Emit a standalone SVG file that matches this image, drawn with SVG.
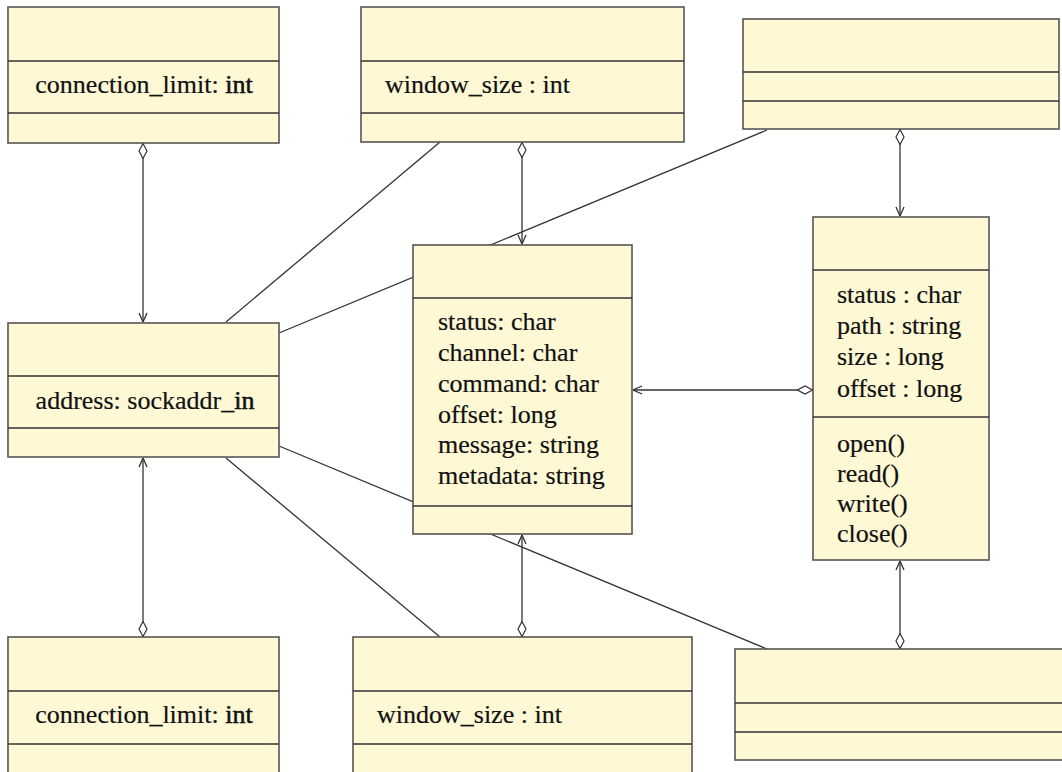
<svg xmlns="http://www.w3.org/2000/svg" width="1062" height="772" viewBox="0 0 1062 772">
  <style>
    .box { fill: #FEF8D5; stroke: #555; stroke-width: 1.6; }
    .div { stroke: #333; stroke-width: 1.5; }
    .txt { font-family: 'Liberation Serif', 'Times New Roman', serif; font-size: 26px; fill: #111; stroke: #111; stroke-width: 0.2; }
    .mid { text-anchor: middle; }
    .heavy { stroke-width: 0.55; }
    .conn { stroke: #333; stroke-width: 1.3; fill: none; }
  </style>
  <defs>
    <!-- open arrowhead -->
    <marker id="arrow" viewBox="0 0 10 10" refX="10" refY="5" markerWidth="10" markerHeight="10" markerUnits="userSpaceOnUse" orient="auto">
      <path d="M1,1 L10,5 L1,9" fill="none" stroke="#333" stroke-width="1.3"/>
    </marker>
    <!-- hollow aggregation diamond -->
    <marker id="diamond" viewBox="0 0 16 10" refX="0" refY="5" markerWidth="16" markerHeight="10" markerUnits="userSpaceOnUse" orient="auto">
      <path d="M0.5,5 L8,1 L15.5,5 L8,9 Z" fill="#fff" stroke="#333" stroke-width="1.2"/>
    </marker>
  </defs>

  <rect width="1062" height="772" fill="#fff"/>

  <g id="connectors">
    <!-- aggregations: diamond at the owner, arrow at the part -->
    <path class="conn" d="M143,143 L143,322" marker-start="url(#diamond)" marker-end="url(#arrow)"/>
    <path class="conn" d="M143,637 L143,458" marker-start="url(#diamond)" marker-end="url(#arrow)"/>
    <path class="conn" d="M522,142 L522,244" marker-start="url(#diamond)" marker-end="url(#arrow)"/>
    <path class="conn" d="M522,637 L522,535" marker-start="url(#diamond)" marker-end="url(#arrow)"/>
    <path class="conn" d="M900,129 L900,216" marker-start="url(#diamond)" marker-end="url(#arrow)"/>
    <path class="conn" d="M900,649 L900,561" marker-start="url(#diamond)" marker-end="url(#arrow)"/>
    <path class="conn" d="M813,390 L633,390" marker-start="url(#diamond)" marker-end="url(#arrow)"/>
    <!-- plain associations -->
    <path class="conn" d="M440,142 L226,322"/>
    <path class="conn" d="M767,130 L279,333"/>
    <path class="conn" d="M767,649 L279,446"/>
    <path class="conn" d="M226,458 L440,637"/>
  </g>

  <g id="node-top-left">
    <rect class="box" x="8" y="7" width="271" height="136"/>
    <line class="div" x1="8" y1="61" x2="279" y2="61"/>
    <line class="div" x1="8" y1="113" x2="279" y2="113"/>
    <text class="txt mid" x="144" y="93">connection_limit: <tspan class="heavy">int</tspan></text>
  </g>

  <g id="node-top-middle">
    <rect class="box" x="361" y="7" width="323" height="135"/>
    <line class="div" x1="361" y1="61" x2="684" y2="61"/>
    <line class="div" x1="361" y1="113" x2="684" y2="113"/>
    <text class="txt" x="385" y="93">window_size : int</text>
  </g>

  <g id="node-top-right">
    <rect class="box" x="743" y="19" width="316" height="110"/>
    <line class="div" x1="743" y1="72" x2="1059" y2="72"/>
    <line class="div" x1="743" y1="101" x2="1059" y2="101"/>
  </g>

  <g id="node-middle-left">
    <rect class="box" x="8" y="323" width="271" height="134"/>
    <line class="div" x1="8" y1="376" x2="279" y2="376"/>
    <line class="div" x1="8" y1="428" x2="279" y2="428"/>
    <text class="txt mid" x="145" y="409">address: sockaddr_<tspan class="heavy">in</tspan></text>
  </g>

  <g id="node-center">
    <rect class="box" x="413" y="245" width="219" height="289"/>
    <line class="div" x1="413" y1="298" x2="632" y2="298"/>
    <line class="div" x1="413" y1="506" x2="632" y2="506"/>
    <text class="txt" x="438" y="330">status: char</text>
    <text class="txt" x="438" y="361">channel: char</text>
    <text class="txt" x="438" y="392">command: char</text>
    <text class="txt" x="438" y="423">offset: long</text>
    <text class="txt" x="438" y="453">message: string</text>
    <text class="txt" x="438" y="484">metadata: string</text>
  </g>

  <g id="node-right">
    <rect class="box" x="813" y="217" width="176" height="343"/>
    <line class="div" x1="813" y1="270" x2="989" y2="270"/>
    <line class="div" x1="813" y1="417" x2="989" y2="417"/>
    <text class="txt" x="837" y="303">status : char</text>
    <text class="txt" x="837" y="334">path : string</text>
    <text class="txt" x="837" y="365">size : long</text>
    <text class="txt" x="837" y="397">offset : long</text>
    <text class="txt" x="837" y="452">open()</text>
    <text class="txt" x="837" y="482">read()</text>
    <text class="txt" x="837" y="512">write()</text>
    <text class="txt" x="837" y="542">close()</text>
  </g>

  <g id="node-bottom-left">
    <rect class="box" x="8" y="637" width="271" height="145"/>
    <line class="div" x1="8" y1="691" x2="279" y2="691"/>
    <line class="div" x1="8" y1="744" x2="279" y2="744"/>
    <text class="txt mid" x="144" y="723">connection_limit: <tspan class="heavy">int</tspan></text>
  </g>

  <g id="node-bottom-middle">
    <rect class="box" x="353" y="637" width="339" height="145"/>
    <line class="div" x1="353" y1="691" x2="692" y2="691"/>
    <line class="div" x1="353" y1="744" x2="692" y2="744"/>
    <text class="txt" x="377" y="723">window_size : int</text>
  </g>

  <g id="node-bottom-right">
    <rect class="box" x="735" y="649" width="340" height="111"/>
    <line class="div" x1="735" y1="703" x2="1075" y2="703"/>
    <line class="div" x1="735" y1="732" x2="1075" y2="732"/>
  </g>
</svg>
